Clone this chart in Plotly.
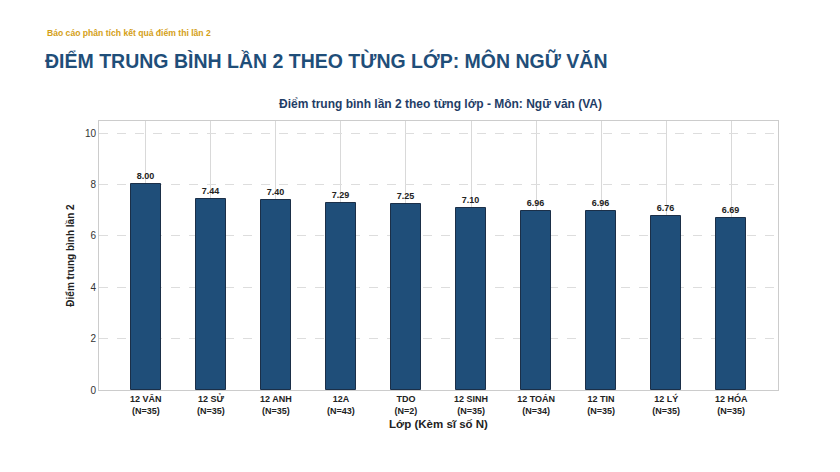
import plotly.graph_objects as go

classes = ["12 VĂN", "12 SỬ", "12 ANH", "12A", "TDO", "12 SINH", "12 TOÁN", "12 TIN", "12 LÝ", "12 HÓA"]
counts = [35, 35, 35, 43, 2, 35, 34, 35, 35, 35]
scores = [8.00, 7.44, 7.40, 7.29, 7.25, 7.10, 6.96, 6.96, 6.76, 6.69]
y_ticks = [0, 2, 4, 6, 8, 10]

labels = [f"<b>{c}<br>(N={n})</b>" for c, n in zip(classes, counts)]
xs = list(range(len(classes)))

# page has an 8px body margin; size figure so it fits the 840x472 window
OFF = 8
W, H = 840 - OFF, 472 - OFF
ML, MR, MT, MB = 99 - OFF, 62, 121 - OFF, 82
PW, PH = W - ML - MR, H - MT - MB


def px(x):
    return (x - OFF - ML) / PW


def py(y):
    return (H - (y - OFF) - MB) / PH


font = "Liberation Sans, Arial, sans-serif"
fig = go.Figure()
fig.add_trace(go.Bar(
    x=xs, y=scores, width=0.46,
    marker=dict(color="#1f4e79", line=dict(color="#1b2f48", width=1)),
    text=[f"<b>{v:.2f}</b>" for v in scores],
    textposition="outside", textfont=dict(size=9, color="#222", family=font),
    cliponaxis=False,
))

fig.update_layout(
    width=W, height=H,
    margin=dict(l=ML, r=MR, t=MT, b=MB),
    paper_bgcolor="white", plot_bgcolor="white",
    showlegend=False,
    font=dict(family=font),
    bargap=0,
    xaxis=dict(
        range=[-0.72, 9.72], tickmode="array", tickvals=xs, ticktext=labels,
        tickfont=dict(size=9, color="#222"), showgrid=True, gridcolor="#d9d9d9", gridwidth=1,
        showline=True, linecolor="#cccccc", mirror=True, ticks="", zeroline=False,
        title=dict(text="<b>Lớp (Kèm sĩ số N)</b>", font=dict(size=11.5, color="#222"), standoff=5),
    ),
    yaxis=dict(
        range=[0, 10.47], tickmode="array", tickvals=y_ticks,
        tickfont=dict(size=10, color="#333"), showgrid=True, gridcolor="#dddddd", griddash="dash",
        showline=True, linecolor="#cccccc", mirror=True, ticks="", zeroline=False,
        title=dict(text="<b>Điểm trung bình lần 2</b>", font=dict(size=10, color="#222"), standoff=8),
    ),
    annotations=[
        dict(text="<b>Báo cáo phân tích kết quả điểm thi lần 2</b>", x=px(45), y=py(33),
             xref="paper", yref="paper", showarrow=False, xanchor="left", yanchor="middle",
             font=dict(size=8.6, color="#d4a017")),
        dict(text="<b>ĐIỂM TRUNG BÌNH LẦN 2 THEO TỪNG LỚP: MÔN NGỮ VĂN</b>", x=px(43), y=py(60),
             xref="paper", yref="paper", showarrow=False, xanchor="left", yanchor="middle",
             font=dict(size=19.5, color="#1f4e79")),
        dict(text="<b>Điểm trung bình lần 2 theo từng lớp - Môn: Ngữ văn (VA)</b>", x=px(440), y=py(104),
             xref="paper", yref="paper", showarrow=False, xanchor="center", yanchor="middle",
             font=dict(size=12, color="#1f3d66")),
    ],
)

fig.write_html("out.html")
